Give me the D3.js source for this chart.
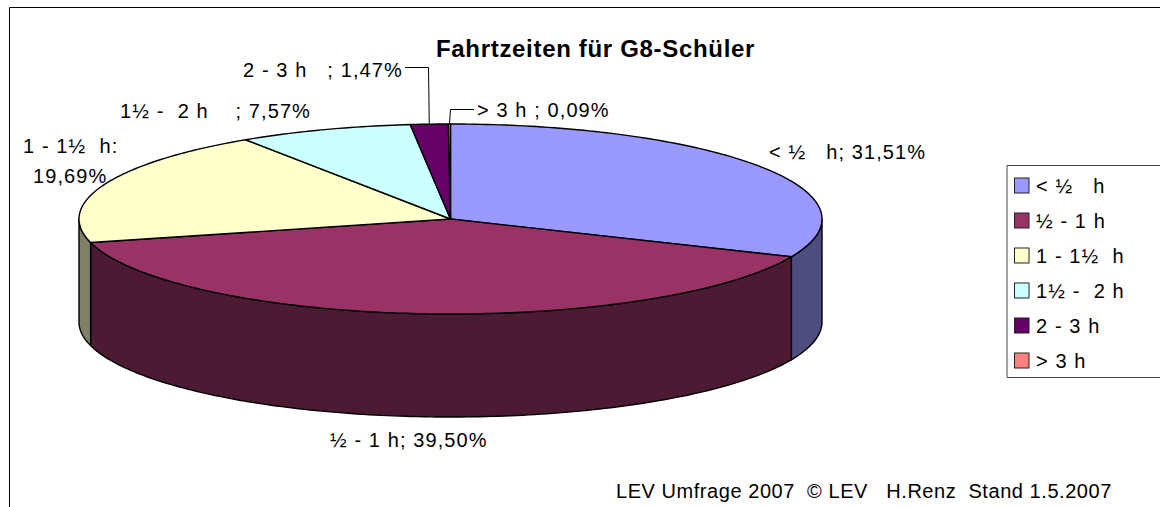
<!DOCTYPE html>
<html>
<head>
<meta charset="utf-8">
<script src="https://cdn.jsdelivr.net/npm/d3@7"></script>
<style>
  html, body { margin: 0; padding: 0; background: #fff; }
  svg { display: block; }
  text { font-family: "Liberation Sans", Arial, sans-serif; fill: #000; white-space: pre; }
</style>
</head>
<body>
<div id="chart"></div>
<script>
// data
var categories = ['< ½   h', '½ - 1 h', '1 - 1½  h', '1½ -  2 h', '2 - 3 h', '> 3 h'];
var shares = [31.51, 39.50, 19.69, 7.57, 1.64, 0.09];
var shareLabels = ['31,51%', '39,50%', '19,69%', '7,57%', '1,47%', '0,09%'];
var colors = ['#9999ff', '#993366', '#ffffcc', '#ccffff', '#660066', '#ff8080'];
var sideColors = ['#4d4d80', '#4d1a33', '#808066', '#668080', '#330033', '#804040'];

var titleText = 'Fahrtzeiten für G8-Schüler';
var footerText = 'LEV Umfrage 2007  © LEV   H.Renz  Stand 1.5.2007';

// layout
var width = 1160, height = 507;
var cx = 450.5, cy = 219, rx = 371.5, ry = 95, depth = 103;

var svg = d3.select('#chart').append('svg')
  .attr('width', width)
  .attr('height', height);

var line = d3.line();

// frame runs off the right and bottom of the picture
svg.append('path')
  .attr('d', line([[9.5, height], [9.5, 7.5], [width, 7.5]]))
  .attr('fill', 'none')
  .attr('stroke', '#000');

svg.append('text')
  .attr('x', 436).attr('y', 57)
  .attr('font-size', 24)
  .attr('font-weight', 'bold')
  .attr('letter-spacing', 0.68)
  .text(titleText);

/////////////////
// Pie         //
/////////////////

var pie = d3.pie().sort(null)(shares);

// angle is clockwise from twelve o'clock, same as d3.pie
var px = function(a){ return cx + rx * Math.sin(a); };
var py = function(a){ return cy - ry * Math.cos(a); };

var angleSteps = function(a0, a1){
  var n = Math.max(2, Math.ceil((a1 - a0) * 60));
  return d3.range(n + 1).map(function(i){ return a0 + (a1 - a0) * i / n; });
};

// walls only show on the front half of the ellipse
var wallPath = function(d){
  var a0 = Math.max(d.startAngle, Math.PI / 2);
  var a1 = Math.min(d.endAngle, Math.PI * 1.5);
  if(a1 <= a0) return null;
  var steps = angleSteps(a0, a1);
  var top = steps.map(function(a){ return [px(a), py(a)]; });
  var bottom = steps.slice().reverse().map(function(a){ return [px(a), py(a) + depth]; });
  return line(top.concat(bottom)) + 'Z';
};

var topPath = function(d){
  var edge = angleSteps(d.startAngle, d.endAngle).map(function(a){ return [px(a), py(a)]; });
  return line([[cx, cy]].concat(edge)) + 'Z';
};

var walls = pie.filter(function(d){ return wallPath(d) !== null; });

svg.append('g').selectAll('path')
  .data(walls)
  .enter().append('path')
  .attr('d', wallPath)
  .attr('fill', function(d){ return sideColors[d.index]; })
  .attr('stroke', '#000')
  .attr('stroke-width', 1.4)
  .attr('stroke-linejoin', 'round');

svg.append('g').selectAll('path')
  .data(pie)
  .enter().append('path')
  .attr('d', topPath)
  .attr('fill', function(d){ return colors[d.index]; })
  .attr('stroke', '#000')
  .attr('stroke-width', 1.4)
  .attr('stroke-linejoin', 'round');

////////////////////
// Data labels    //
////////////////////

var labelFont = 20;
var labelSpacing = 1.1;

var dataLabels = [
  { x: 769, y: 159, text: categories[0] + '; ' + shareLabels[0] },
  { x: 330, y: 447, text: categories[1] + '; ' + shareLabels[1] },
  { x: 243, y: 77, text: categories[4] + '   ; ' + shareLabels[4] },
  { x: 120, y: 118, text: categories[3] + '    ; ' + shareLabels[3] },
  { x: 23, y: 153, text: categories[2] + ':' },
  { x: 33, y: 183, text: shareLabels[2] },
  { x: 477, y: 117, text: categories[5] + ' ; ' + shareLabels[5] }
];

svg.append('g').selectAll('text')
  .data(dataLabels)
  .enter().append('text')
  .attr('x', function(d){ return d.x; })
  .attr('y', function(d){ return d.y; })
  .attr('font-size', labelFont)
  .attr('letter-spacing', labelSpacing)
  .text(function(d){ return d.text; });

// leader lines, the pie end comes from the slice's own mid angle
var leaders = [
  { i: 4, points: [[405, 67.5], [428.5, 67.5]] },
  { i: 5, points: [[474, 109.5], [450.5, 109.5]] }
];

svg.append('g').selectAll('path')
  .data(leaders)
  .enter().append('path')
  .attr('d', function(d){
    var mid = (pie[d.i].startAngle + pie[d.i].endAngle) / 2;
    return line(d.points.concat([[px(mid), py(mid)]]));
  })
  .attr('fill', 'none')
  .attr('stroke', '#000');

////////////////////
// Legend         //
////////////////////

var legend = svg.append('g');

legend.append('path')
  .attr('d', line([[width, 165.5], [1007, 165.5], [1007, 377.5], [width, 377.5]]))
  .attr('fill', '#fff')
  .attr('stroke', '#444');

var rowY = d3.scalePoint().domain(d3.range(categories.length)).range([185.5, 360.5]);

var rows = legend.selectAll('g')
  .data(categories)
  .enter().append('g')
  .attr('transform', function(d, i){ return 'translate(0,' + rowY(i) + ')'; });

rows.append('rect')
  .attr('x', 1014.5).attr('y', -7.5)
  .attr('width', 14.5).attr('height', 15)
  .attr('fill', function(d, i){ return colors[i]; })
  .attr('stroke', '#222');

rows.append('text')
  .attr('x', 1036).attr('y', 7.5)
  .attr('font-size', labelFont)
  .attr('letter-spacing', labelSpacing)
  .text(function(d){ return d; });

svg.append('text')
  .attr('x', 616).attr('y', 498)
  .attr('font-size', labelFont)
  .attr('letter-spacing', 0.55)
  .text(footerText);
</script>
</body>
</html>
